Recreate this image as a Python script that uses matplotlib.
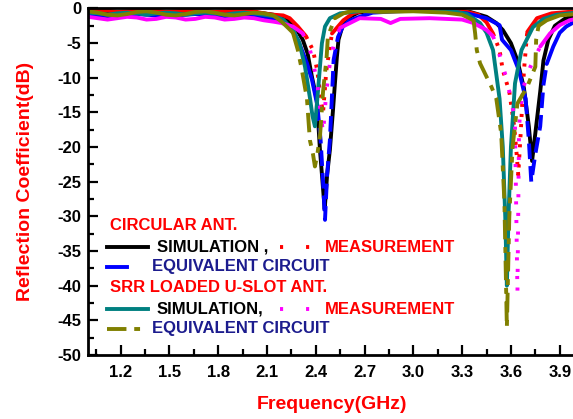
import matplotlib
matplotlib.use("Agg")
import matplotlib.pyplot as plt
import numpy as np
from matplotlib.ticker import MultipleLocator, FormatStrFormatter
from matplotlib.lines import Line2D

plt.rcParams["font.family"] = ["Liberation Sans", "DejaVu Sans"]
plt.rcParams["font.weight"] = "bold"
plt.rcParams["axes.unicode_minus"] = False

# ── data ────────────────────────────────────────────────────
# circular antenna, simulation
circ_sim_f = [1.00, 1.06, 1.12, 1.18, 1.24, 1.30, 1.36, 1.42, 1.48, 1.54, 1.60,
              1.66, 1.72, 1.78, 1.84, 1.90, 1.96, 2.02, 2.08, 2.14, 2.20,
              2.24, 2.28, 2.32, 2.35, 2.377, 2.407, 2.426, 2.445, 2.455, 2.47,
              2.487, 2.506, 2.518, 2.53, 2.54, 2.57, 2.61, 2.66, 2.75, 2.90,
              3.05, 3.20, 3.35, 3.45, 3.51, 3.55, 3.60, 3.64, 3.68, 3.71,
              3.73, 3.75, 3.78, 3.80, 3.83, 3.87, 3.93, 4.00]
circ_sim_db = [-0.5, -0.6, -0.7, -0.6, -0.5, -0.6, -0.7, -0.6, -0.5, -0.6, -0.7,
               -0.6, -0.5, -0.6, -0.7, -0.6, -0.5, -0.6, -0.7, -0.9, -1.3,
               -2.0, -2.9, -4.5, -6.5, -9.9, -13.2, -20.4, -26, -29, -24,
               -20.4, -14.7, -10.8, -7.0, -4.5, -2.1, -1.2, -0.6, -0.3, -0.2,
               -0.2, -0.3, -0.5, -1.2, -2.1, -3.1, -5.0, -7.5, -11.5, -17,
               -22, -18, -12, -7.5, -4.5, -2.5, -1.5, -1.0]

# circular antenna, measurement
circ_meas_f = [1.00, 1.06, 1.12, 1.18, 1.24, 1.30, 1.36, 1.42, 1.48, 1.54,
               1.60, 1.66, 1.72, 1.78, 1.84, 1.90, 1.96, 2.02, 2.08, 2.14,
               2.20, 2.24, 2.29, 2.34, 2.383, 2.41, 2.43, 2.445, 2.465, 2.487,
               2.50, 2.57, 2.63, 2.70, 2.90, 3.10, 3.30, 3.40, 3.45, 3.49,
               3.53, 3.55, 3.59, 3.62, 3.635, 3.645, 3.66, 3.68, 3.70, 3.73,
               3.76, 3.85, 4.00]
circ_meas_db = [-0.3, -0.2, -0.3, -0.5, -0.4, -0.3, -0.2, -0.3, -0.5, -0.4,
                -0.3, -0.2, -0.3, -0.5, -0.4, -0.3, -0.2, -0.4, -0.7, -0.9,
                -1.0, -1.4, -2.6, -4.0, -6.0, -9.0, -13, -15, -9.0, -5.5,
                -3.6, -1.7, -0.7, -0.3, -0.2, -0.2, -0.3, -0.9, -2.0, -3.6,
                -6.0, -8.9, -12, -17, -21, -24, -18, -9.0, -3.4, -2.4,
                -1.4, -0.7, -0.4]

# circular antenna, equivalent circuit
circ_eq_f = [1.00, 1.06, 1.12, 1.18, 1.24, 1.30, 1.36, 1.42, 1.48, 1.54, 1.60,
             1.66, 1.72, 1.78, 1.84, 1.90, 1.96, 2.02, 2.08, 2.14, 2.20,
             2.24, 2.29, 2.346, 2.377, 2.41, 2.43, 2.445, 2.457, 2.47, 2.487,
             2.506, 2.51, 2.537, 2.567, 2.61, 2.67, 2.75, 2.90, 3.05, 3.20,
             3.33, 3.45, 3.53, 3.545, 3.60, 3.65, 3.69, 3.71, 3.725, 3.75,
             3.78, 3.80, 3.82, 3.86, 3.90, 3.94, 4.00]
circ_eq_db = [-0.9, -1.0, -1.1, -1.0, -0.9, -0.8, -0.9, -1.0, -1.1, -1.0, -0.9,
              -0.8, -0.9, -1.0, -1.1, -1.0, -0.9, -1.0, -1.2, -1.5, -1.9,
              -2.6, -4.5, -7.9, -10.3, -14, -19, -25, -30.5, -24, -19,
              -9.5, -7.4, -4.1, -2.6, -1.7, -1.2, -0.6, -0.4, -0.3, -0.5,
              -0.7, -1.4, -2.4, -4.5, -6.0, -9.0, -13, -19, -25, -21,
              -17, -11, -8.0, -5.5, -3.5, -2.6, -1.8]

# SRR loaded U-slot antenna, simulation
srr_sim_f = [1.00, 1.06, 1.12, 1.18, 1.24, 1.30, 1.36, 1.42, 1.48, 1.54, 1.60,
             1.66, 1.72, 1.78, 1.84, 1.90, 1.96, 2.02, 2.08, 2.14, 2.20,
             2.26, 2.30, 2.334, 2.365, 2.38, 2.395, 2.41, 2.426, 2.438, 2.457,
             2.487, 2.55, 2.70, 2.90, 3.10, 3.25, 3.33, 3.41, 3.45, 3.49,
             3.53, 3.55, 3.565, 3.575, 3.585, 3.60, 3.625, 3.665, 3.735, 3.80,
             3.88, 4.00]
srr_sim_db = [-0.6, -0.7, -0.9, -0.7, -0.6, -0.7, -0.9, -0.7, -0.6, -0.7, -0.9,
              -0.7, -0.6, -0.7, -0.9, -0.7, -0.6, -0.7, -0.9, -1.1, -1.6,
              -3.1, -5.0, -8.4, -13, -15.5, -17, -13, -8.4, -5.0, -2.6,
              -1.4, -0.7, -0.3, -0.3, -0.3, -0.4, -0.8, -2.1, -3.5, -6.0,
              -13, -20, -30, -40, -30, -20, -10.8, -6.0, -2.7, -1.5,
              -0.9, -0.6]

# SRR loaded U-slot antenna, measurement
srr_meas_f = [1.00, 1.06, 1.12, 1.18, 1.24, 1.30, 1.36, 1.42, 1.48, 1.54,
              1.60, 1.66, 1.72, 1.78, 1.84, 1.90, 1.96, 2.02, 2.08, 2.14,
              2.19, 2.26, 2.32, 2.365, 2.407, 2.426, 2.445, 2.465, 2.487, 2.518,
              2.55, 2.61, 2.67, 2.80, 2.86, 2.92, 3.10, 3.30, 3.37, 3.45,
              3.49, 3.53, 3.575, 3.61, 3.625, 3.64, 3.65, 3.67, 3.70, 3.72,
              3.78, 3.84, 3.90, 3.96, 4.00]
srr_meas_db = [-1.2, -1.4, -1.6, -1.4, -1.2, -1.3, -1.6, -1.5, -1.2, -1.3,
               -1.6, -1.5, -1.2, -1.3, -1.6, -1.5, -1.3, -1.4, -1.7, -1.9,
               -2.1, -2.6, -3.6, -6.0, -10.3, -14.2, -18, -12, -7.9, -4.5,
               -2.8, -2.1, -1.4, -1.5, -2.1, -1.5, -1.4, -1.6, -2.1, -3.1,
               -4.0, -6.7, -10.3, -14.2, -17, -41, -17, -12, -9.5, -8.4,
               -5.5, -3.6, -2.4, -1.7, -1.5]

# SRR loaded U-slot antenna, equivalent circuit
srr_eq_f = [1.00, 1.06, 1.12, 1.18, 1.24, 1.30, 1.36, 1.42, 1.48, 1.54,
            1.60, 1.66, 1.72, 1.78, 1.84, 1.90, 1.96, 2.02, 2.08, 2.14,
            2.19, 2.23, 2.26, 2.29, 2.315, 2.346, 2.364, 2.383, 2.395, 2.41,
            2.426, 2.445, 2.467, 2.475, 2.518, 2.57, 2.63, 2.80, 3.00, 3.20,
            3.30, 3.37, 3.38, 3.39, 3.41, 3.48, 3.51, 3.54, 3.56, 3.575,
            3.59, 3.61, 3.64, 3.70, 3.75, 3.755, 3.77, 3.82, 3.90, 4.00]
srr_eq_db = [-0.4, -0.6, -0.9, -1.0, -0.8, -0.5, -0.4, -0.6, -0.9, -1.0,
             -0.8, -0.5, -0.4, -0.6, -0.9, -1.0, -0.8, -0.6, -0.7, -1.0,
             -1.9, -2.8, -3.5, -6.0, -8.9, -13, -19, -21, -22.8, -21,
             -18.5, -12, -7.0, -4.0, -1.4, -0.7, -0.3, -0.5, -0.4, -0.6,
             -0.9, -1.7, -3.6, -6.0, -7.9, -11.3, -13, -18, -28, -46,
             -30, -20, -13.7, -11.3, -8.4, -4.5, -2.5, -1.7, -1.0, -0.8]

RED, NAVY = "#ff0000", "#1c1c8e"
LW = 2.8

# (freq, dB, colour, dash pattern, slope in dB/GHz above which the dashes show)
series = [
    (circ_sim_f, circ_sim_db, "#000000", "-", None),
    (circ_meas_f, circ_meas_db, "#ff0000", (0, (0.8, 1.8)), 45),
    (circ_eq_f, circ_eq_db, "#0000ff", (0, (4, 1.8)), 120),
    (srr_sim_f, srr_sim_db, "#008080", "-", None),
    (srr_meas_f, srr_meas_db, "#ff00ff", (0, (0.8, 4)), 45),
    (srr_eq_f, srr_eq_db, "#808000", (0, (5, 2, 1.5, 2)), 35),
]

# ── figure ──────────────────────────────────────────────────
fig = plt.figure(figsize=(5.73, 4.19), dpi=100, facecolor="white")
ax = fig.add_axes([88 / 573, 64 / 419, 488 / 573, 346.5 / 419])


def draw(f, db, col, ls, steep):
    # like the original plotting program: dash gaps only show up on
    # steep stretches, flat stretches look solid
    f, db = np.asarray(f), np.asarray(db)
    if steep is None:
        ax.plot(f, db, color=col, linestyle=ls, linewidth=LW,
                solid_joinstyle="round", solid_capstyle="round")
        return
    is_steep = np.abs(np.diff(db) / np.diff(f)) > steep
    start = 0
    for i in range(1, len(is_steep) + 1):
        if i == len(is_steep) or is_steep[i] != is_steep[start]:
            seg = slice(start, i + 1)
            ax.plot(f[seg], db[seg], color=col,
                    linestyle=ls if is_steep[start] else "-",
                    linewidth=LW, solid_joinstyle="round",
                    solid_capstyle="round")
            start = i


for f, db, col, ls, steep in series:
    draw(f, db, col, ls, steep)

ax.set_xlim(1.0, 4.0)
ax.set_ylim(-50, 0)
ax.xaxis.set_major_locator(MultipleLocator(0.3))
ax.xaxis.set_minor_locator(MultipleLocator(0.15))
ax.xaxis.set_major_formatter(FormatStrFormatter("%.1f"))
ax.yaxis.set_major_locator(MultipleLocator(5))
ax.yaxis.set_minor_locator(MultipleLocator(2.5))

ax.tick_params(which="both", direction="in", width=1.6, labelsize=12,
               top=False, right=False)
ax.tick_params(which="major", length=7)
ax.tick_params(which="minor", length=4)
ax.tick_params(axis="x", pad=7)
ax.tick_params(axis="y", pad=5)
for lab in ax.get_xticklabels() + ax.get_yticklabels():
    lab.set_fontweight("bold")

for side in ["left", "bottom", "top"]:
    ax.spines[side].set_linewidth(2)
ax.spines["right"].set_visible(False)

ax.set_xlabel("Frequency(GHz)", color=RED, fontsize=14, fontweight="bold")
ax.set_ylabel("Reflection Coefficient(dB)", color=RED, fontsize=14, fontweight="bold")
ax.xaxis.set_label_coords(0.5, -0.118)
ax.yaxis.set_label_coords(-0.11, 0.5)


# ── legend drawn inside the axes (pixel layout of the reference) ──
def ax_xy(px, py):
    return (px - 88) / 488, (355 - py) / 346.5


def sample(x0, x1, y, col, ls):
    (a, b), (c, _) = ax_xy(x0, y), ax_xy(x1, y)
    ax.add_line(Line2D([a, c], [b, b], transform=ax.transAxes, color=col,
                       linestyle=ls, linewidth=LW, clip_on=False))


def label(x, y, s, col, size=12):
    a, b = ax_xy(x, y)
    ax.text(a, b, s, transform=ax.transAxes, color=col, fontsize=size,
            fontweight="bold", ha="left", va="center")


label(110, 226, "CIRCULAR ANT.", RED)
sample(107, 148, 247, "#000000", "-")
label(157, 247, "SIMULATION ,", "#000000")
sample(280, 310, 247, "#ff0000", (0, (0.8, 5.9)))
label(325, 247, "MEASUREMENT", RED)
sample(107, 127, 267, "#0000ff", "-")
label(152, 267, "EQUIVALENT CIRCUIT", NAVY)

label(110, 288, "SRR LOADED U-SLOT ANT.", RED)
sample(107, 148, 309, "#008080", "-")
label(157, 309, "SIMULATION,", "#000000")
sample(280, 310, 309, "#ff00ff", (0, (0.8, 5.9)))
label(325, 309, "MEASUREMENT", RED)
sample(107, 141, 329, "#808000", (0, (5, 2, 1.5, 2)))
label(152, 329, "EQUIVALENT CIRCUIT", NAVY)

fig.savefig("out.png", dpi=100, facecolor="white")
